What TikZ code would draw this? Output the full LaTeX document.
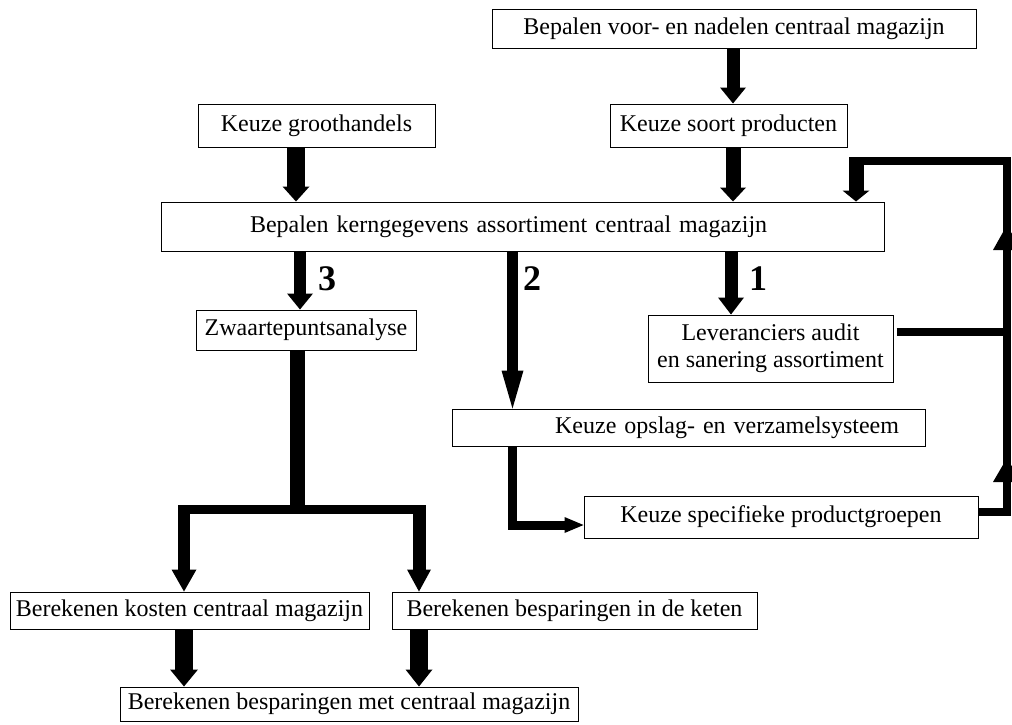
\documentclass[tikz,border=0pt]{standalone}
\usepackage{fontspec}
\setmainfont{Liberation Serif}
\usetikzlibrary{arrows.meta}
\begin{document}
\begin{tikzpicture}[x=1pt,y=-1pt,
  box/.style={draw, line width=1pt, fill=white, inner sep=0pt, font=\fontsize{24}{27}\selectfont, align=center},
  lbl/.style={font=\fontsize{36}{40}\selectfont\bfseries, inner sep=0pt},
  blk/.style n args={3}{line width=#1pt, -{Triangle[length=#3pt, width=#2pt, line width=0pt]}},
  fb/.style={line width=8pt},
]
\fill[white] (0,0) rectangle (1012,724);
\useasboundingbox (0,0) rectangle (1012,724);

% boxes
\node[box, minimum width=484pt, minimum height=39pt] (voor) at (734,28.5) {Bepalen voor- en nadelen centraal magazijn};
\node[box, minimum width=237pt, minimum height=43pt] (soort) at (728.5,125.5) {Keuze soort producten};
\node[box, minimum width=237pt, minimum height=43pt] (groot) at (316.5,125.5) {Keuze groothandels};
\node[box, minimum height=49pt, text width=545pt, inner xsep=89pt, align=left] (kern) at (522.5,226.5) {Bepalen kerngegevens assortiment centraal magazijn};
\node[box, minimum width=220pt, minimum height=40pt] (zwaar) at (306,330) {Zwaartepuntsanalyse};
\node[box, minimum width=245pt, minimum height=67pt] (lever) at (770.5,348.5) {Leveranciers audit\\en sanering assortiment};
\node[box, minimum height=37pt, text width=421pt, inner xsep=26pt, align=right] (opslag) at (688.5,427.5) {Keuze opslag- en verzamelsysteem};
\node[box, minimum width=394pt, minimum height=42pt] (prod) at (781,517) {Keuze specifieke productgroepen};
\node[box, minimum width=359pt, minimum height=37pt] (kosten) at (189.5,610.5) {Berekenen kosten centraal magazijn};
\node[box, minimum width=365pt, minimum height=37pt] (keten) at (574.5,610.5) {Berekenen besparingen in de keten};
\node[box, minimum width=458pt, minimum height=34pt] (met) at (349,704) {Berekenen besparingen met centraal magazijn};

% labels
\node[lbl] (n3) at (327,279) {3};
\node[lbl] (n2) at (532,279) {2};
\node[lbl] (n1) at (758,279) {1};

% column coordinates
\coordinate (cA) at (733,0);
\coordinate (cB) at (296,0);
\coordinate (cD) at (856,0);
\coordinate (c3) at (300,0);
\coordinate (c2) at (512.5,0);
\coordinate (c1) at (731,0);
\coordinate (cO) at (512.5,0);

% top arrows
\draw[blk={13}{26}{16}] (voor.south -| cA) -- (soort.north -| cA);
\draw[blk={18}{27}{15}] (groot.south -| cB) -- (kern.north -| cB);
\draw[blk={15}{26}{14}] (soort.south -| cA) -- (kern.north -| cA);

% arrows from kern
\draw[blk={12}{26}{16}] (kern.south -| c3) -- (zwaar.north -| c3);
\draw[blk={11}{22}{38}] (kern.south -| c2) -- (opslag.north -| c2);
\draw[blk={13}{26}{17}] (kern.south -| c1) -- (lever.north -| c1);

% opslag -> prod
\draw[line width=9pt, -{Triangle[length=19pt, width=16pt, line width=0pt]}] (opslag.south -| cO) |- ([yshift=-8pt]prod.west);

% feedback loop
\coordinate (fbTop) at (1007,161);
\coordinate (fbL) at (849,161);
\draw[fb] ([yshift=5pt]prod.east) -| (fbTop) -- (fbL);
\coordinate (lvE) at ([yshift=16.5pt,xshift=3pt]lever.east);
\draw[fb] (lvE) -- (lvE -| fbTop);
\coordinate (up1a) at (1007,500);
\coordinate (up1b) at (1007,458);
\coordinate (up2a) at (1007,280);
\coordinate (up2b) at (1007,225);
\draw[blk={8}{28}{24}] (up1a) -- (up1b);
\draw[blk={8}{28}{25}] (up2a) -- (up2b);
\coordinate (fbD) at (856,157);
\draw[blk={15}{27}{11}] (fbD) -- (kern.north -| cD);

% zwaartepunt tree
\coordinate (zj) at (297,513);
\draw[line width=15pt] (zwaar.south -| zj) -- (zj);
\coordinate (bl) at (178,509);
\coordinate (br) at (426,509);
\draw[line width=9pt] (bl) -- (br);
\coordinate (cL) at (184,505);
\coordinate (cR) at (419,505);
\draw[blk={12}{25}{22}] (cL) -- (kosten.north -| cL);
\draw[blk={13}{24}{22}] (cR) -- (keten.north -| cR);

% bottom arrows
\draw[blk={18}{28}{17}] (kosten.south -| cL) -- (met.north -| cL);
\draw[blk={18}{27}{17}] (keten.south -| cR) -- (met.north -| cR);
\end{tikzpicture}
\end{document}
